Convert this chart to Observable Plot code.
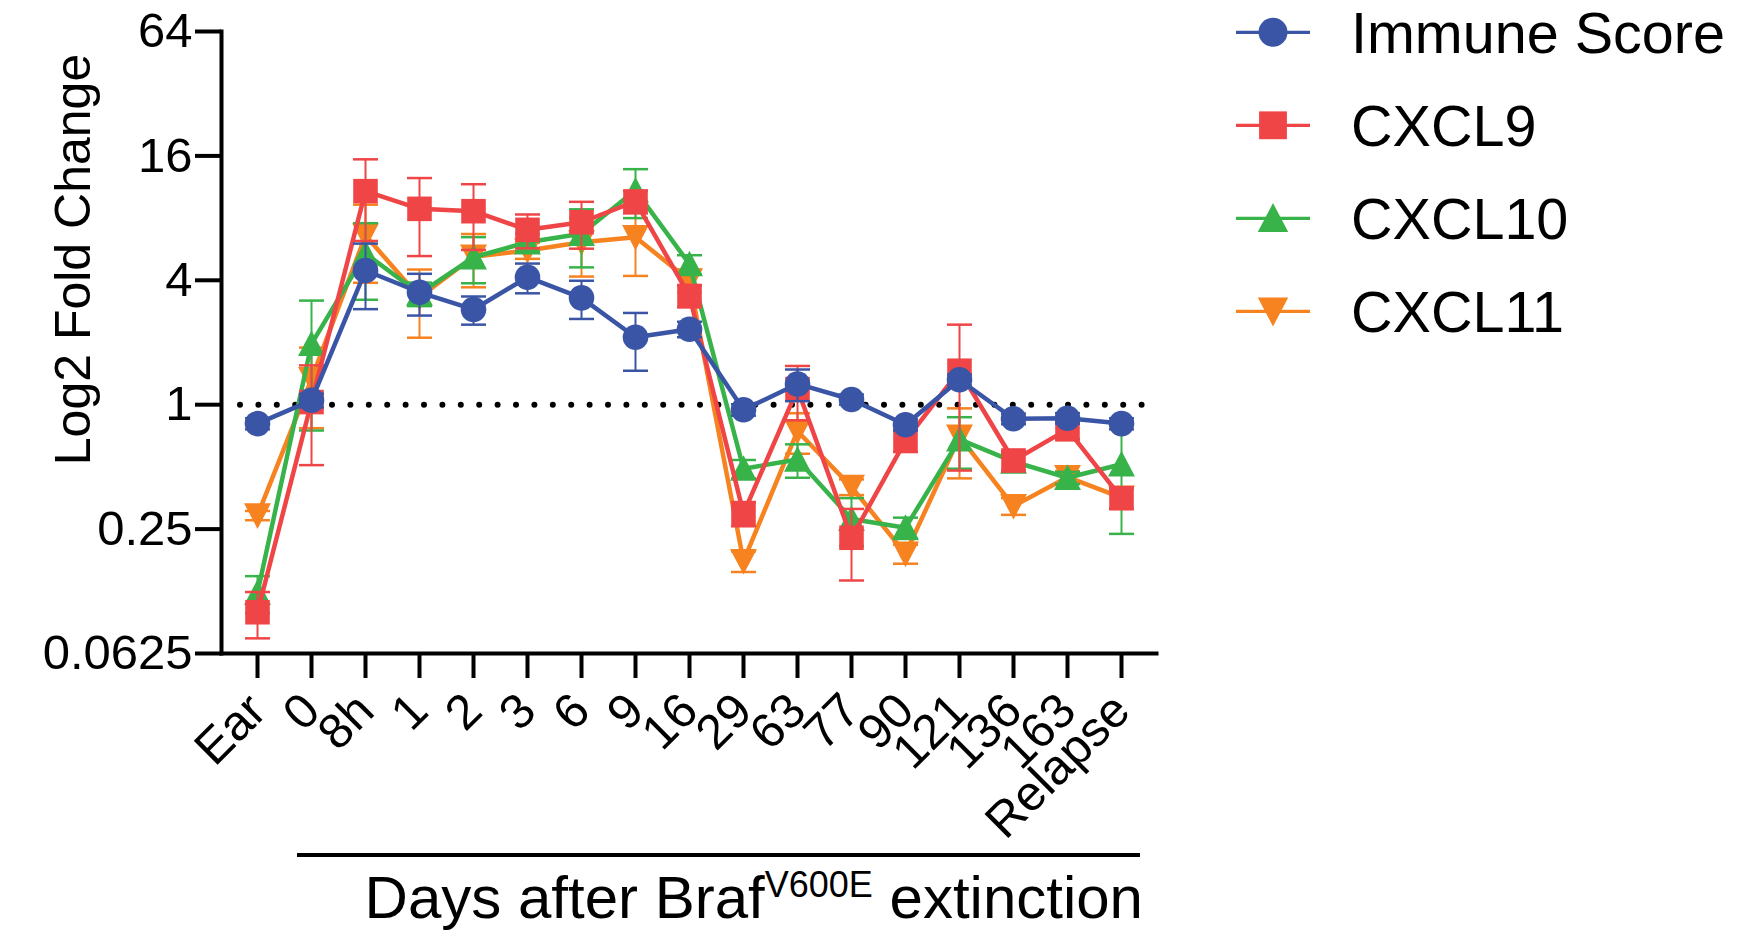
<!DOCTYPE html>
<html>
<head>
<meta charset="utf-8">
<script src="https://cdn.jsdelivr.net/npm/d3@7"></script>
<script src="https://cdn.jsdelivr.net/npm/@observablehq/plot@0.6"></script>
<style>
  html, body { margin: 0; padding: 0; background: #fff; }
  #chart { width: 1737px; height: 932px; }
</style>
</head>
<body>
<div id="chart"></div>
<script>
// ---------------- data ----------------
const categories = ["Ear", "0", "8h", "1", "2", "3", "6", "9", "16", "29", "63", "77", "90", "121", "136", "163", "Relapse"];

const seriesNames = ["Immune Score", "CXCL9", "CXCL10", "CXCL11"];
const seriesColors = ["#3a55a5", "#ef4547", "#37b34a", "#f68220"];

const immuneScore = [0.81, 1.05, 4.46, 3.5, 2.89, 4.14, 3.29, 2.12, 2.32, 0.945, 1.26, 1.06, 0.80, 1.32, 0.855, 0.86, 0.81];
const immuneSem   = [0.05, 0.08, 1.56, 0.8, 0.45, 0.68, 0.69, 0.66, 0.2, 0.06, 0.22, 0.06, 0.05, 0.08, 0.05, 0.05, 0.05];

const cxcl9    = [0.099, 1.03, 10.8, 8.87, 8.64, 7.02, 7.64, 9.63, 3.36, 0.298, 1.19, 0.227, 0.67, 1.46, 0.537, 0.76, 0.353];
const cxcl9Sem = [0.025, 0.52, 4.6, 3.63, 3.03, 1.31, 1.95, 1.2, 0.4, 0.04, 0.35, 0.086, 0.08, 0.98, 0.06, 0.08, 0.04];

const cxcl10    = [0.123, 1.97, 5.39, 3.45, 5.17, 6.11, 6.72, 10.9, 4.79, 0.49, 0.543, 0.28, 0.254, 0.68, 0.53, 0.443, 0.515];
const cxcl10Sem = [0.025, 1.22, 2.17, 0.45, 1.3, 0.6, 2.1, 2.9, 0.5, 0.05, 0.1, 0.073, 0.03, 0.19, 0.05, 0.03, 0.278];

const cxcl11    = [0.291, 1.33, 6.59, 3.31, 5.2, 5.58, 6.11, 6.47, 3.99, 0.175, 0.744, 0.40, 0.19, 0.70, 0.323, 0.446, 0.355];
const cxcl11Sem = [0.015, 0.56, 2.7, 1.2, 1.5, 0.5, 1.94, 2.27, 0.5, 0.02, 0.165, 0.035, 0.02, 0.26, 0.03, 0.03, 0.04];

const yTicks = [0.0625, 0.25, 1, 4, 16, 64];
const yTickLabels = ["0.0625", "0.25", "1", "4", "16", "64"];
const referenceLevel = [1];
const yLabel = "Log2 Fold Change";
const xTitleMain = "Days after Braf";
const xTitleSup = "V600E";
const xTitleEnd = " extinction";

// ---------------- symbols ----------------
const rOf = (size) => Math.sqrt(size / Math.PI);
const symCircle = d3.symbolCircle;
const symSquare = {draw(ctx, size) { const h = rOf(size) * 0.96; ctx.moveTo(-h, -h); ctx.lineTo(h, -h); ctx.lineTo(h, h); ctx.lineTo(-h, h); ctx.closePath(); }};
const symUp = {draw(ctx, size) { const r = rOf(size); ctx.moveTo(0, -r * 1.05); ctx.lineTo(r * 1.05, r * 0.95); ctx.lineTo(-r * 1.05, r * 0.95); ctx.closePath(); }};
const symDown = {draw(ctx, size) { const r = rOf(size); ctx.moveTo(0, r * 1.05); ctx.lineTo(r * 1.05, -r * 0.95); ctx.lineTo(-r * 1.05, -r * 0.95); ctx.closePath(); }};
const symCap = {draw(ctx, size) { const r = rOf(size); ctx.moveTo(-r, 0); ctx.lineTo(r, 0); }};
const seriesSymbols = [symCircle, symSquare, symUp, symDown];

const seriesValues = [immuneScore, cxcl9, cxcl10, cxcl11];
const seriesSems = [immuneSem, cxcl9Sem, cxcl10Sem, cxcl11Sem];

function rowsFor(k) {
  return categories.map((c, i) => ({
    cat: c,
    value: seriesValues[k][i],
    lo: seriesValues[k][i] - seriesSems[k][i],
    hi: seriesValues[k][i] + seriesSems[k][i]
  }));
}

const FONT = "'Liberation Sans', Arial, Helvetica, sans-serif";

const seriesMarks = [];
for (const k of [3, 2, 1, 0]) {
  const rows = rowsFor(k);
  const color = seriesColors[k];
  seriesMarks.push(
    Plot.ruleX(rows, {x: "cat", y1: "lo", y2: "hi", stroke: color, strokeWidth: 2}),
    Plot.dot(rows, {x: "cat", y: "hi", symbol: symCap, r: 12.5, fill: "none", stroke: color, strokeWidth: 2.5}),
    Plot.dot(rows, {x: "cat", y: "lo", symbol: symCap, r: 12.5, fill: "none", stroke: color, strokeWidth: 2.5}),
    Plot.line(rows, {x: "cat", y: "value", stroke: color, strokeWidth: 4.5}),
    Plot.dot(rows, {x: "cat", y: "value", symbol: seriesSymbols[k], r: 12.8, fill: color, stroke: "none"})
  );
}

const plot = Plot.plot({
  width: 1737,
  height: 932,
  marginTop: 31,
  marginBottom: 279,
  marginLeft: 221,
  marginRight: 581,
  style: {fontFamily: FONT, fontSize: "49px", color: "#000", background: "#fff", overflow: "visible"},
  x: {type: "point", domain: categories, padding: 0.657},
  y: {type: "log", base: 2, domain: [0.0625, 64]},
  marks: [
    Plot.ruleY(referenceLevel, {stroke: "#000", strokeWidth: 6, strokeDasharray: "0 18.4", strokeLinecap: "round", insetLeft: 19, insetRight: 14}),
    ...seriesMarks,
    Plot.axisY({ticks: yTicks, tickFormat: (d) => yTickLabels[yTicks.indexOf(d)], tickSize: 26, tickPadding: 3, strokeWidth: 4, fontSize: 49, label: null}),
    Plot.axisX({tickSize: 25, tickPadding: 24, tickRotate: -45, fontSize: 49, strokeWidth: 4, label: null}),
    Plot.frame({anchor: "left", strokeWidth: 4}),
    Plot.frame({anchor: "bottom", strokeWidth: 4})
  ]
});

document.getElementById("chart").appendChild(plot);

// ---------------- extra text, title rule and legend ----------------
const svg = d3.select(plot);
svg.append("text")
  .attr("transform", "translate(90,259.5) rotate(-90)")
  .attr("text-anchor", "middle")
  .attr("font-family", FONT)
  .attr("font-size", 50)
  .attr("fill", "#000")
  .text(yLabel);

svg.append("line")
  .attr("x1", 297).attr("x2", 1140).attr("y1", 855).attr("y2", 855)
  .attr("stroke", "#000").attr("stroke-width", 4);

const title = svg.append("text")
  .attr("x", 1143).attr("y", 918)
  .attr("text-anchor", "end")
  .attr("font-family", FONT)
  .attr("font-size", 60)
  .attr("fill", "#000");
title.append("tspan").text(xTitleMain);
title.append("tspan").attr("font-size", 36).attr("dy", -21).text(xTitleSup);
title.append("tspan").attr("dy", 21).text(xTitleEnd);

const legend = svg.append("g");
seriesNames.forEach((name, k) => {
  const cy = 32.3 + k * 93;
  const g = legend.append("g");
  g.append("line").attr("x1", 1236).attr("x2", 1310).attr("y1", cy).attr("y2", cy)
    .attr("stroke", seriesColors[k]).attr("stroke-width", 3.3);
  g.append("path").attr("transform", `translate(1273,${cy})`)
    .attr("d", d3.symbol(seriesSymbols[k], Math.PI * 14.5 * 14.5)())
    .attr("fill", seriesColors[k]);
  g.append("text").attr("x", 1351).attr("y", cy + 20.5)
    .attr("text-anchor", "start")
    .attr("font-family", FONT).attr("font-size", 57.5).attr("fill", "#000")
    .text(name);
});
</script>
</body>
</html>
